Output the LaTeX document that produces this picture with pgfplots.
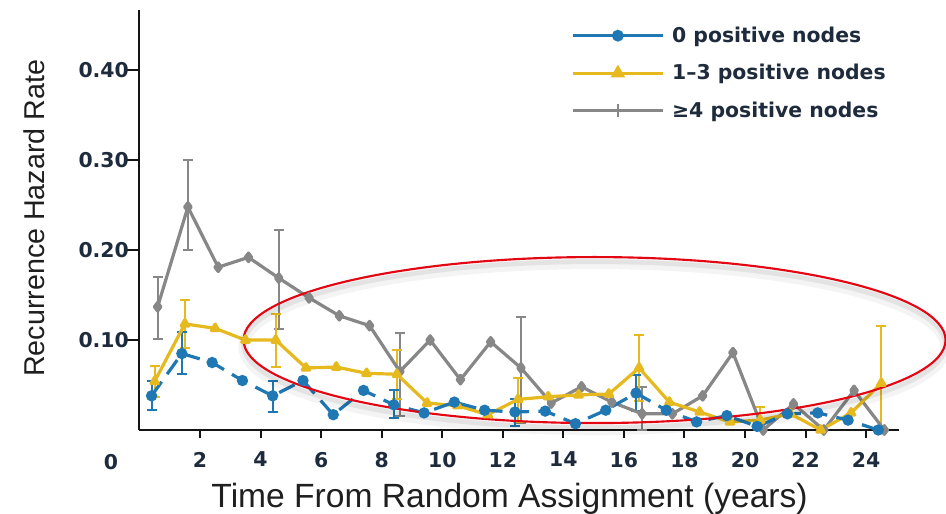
\documentclass[border=0pt]{standalone}
\usepackage{pgfplots}
\pgfplotsset{compat=1.18}
\usepackage{pgfplotstable}
\usepackage{fontspec}
\setmainfont{Liberation Sans}
\newfontfamily\tickfont{DejaVu Sans}

\definecolor{nodezero}{HTML}{1F77B4}
\definecolor{nodefew}{HTML}{E6B91E}
\definecolor{nodemany}{HTML}{878787}
\definecolor{labelink}{HTML}{1E2B3C}
\definecolor{hoop}{HTML}{E30613}

% Annual recurrence hazard by nodal status
\pgfplotstableread{
x    y
0.4  0.038
1.4  0.085
2.4  0.075
3.4  0.055
4.4  0.038
5.4  0.055
6.4  0.017
7.4  0.044
8.4  0.028
9.4  0.019
10.4 0.031
11.4 0.022
12.4 0.020
13.4 0.021
14.4 0.007
15.4 0.022
16.4 0.041
17.4 0.022
18.4 0.009
19.4 0.016
20.4 0.004
21.4 0.018
22.4 0.019
23.4 0.011
24.4 0.000
}\zeronodes

\pgfplotstableread{
x    y      ep     em
0.4  0.038  0.016  0.016
1.4  0.085  0.024  0.023
4.4  0.038  0.017  0.018
8.4  0.028  0.017  0.015
12.4 0.020  0.015  0.016
16.4 0.041  0.020  0.020
}\zeroerr

\pgfplotstableread{
x    y
0.5  0.054
1.5  0.118
2.5  0.113
3.5  0.100
4.5  0.100
5.5  0.069
6.5  0.070
7.5  0.063
8.5  0.062
9.5  0.030
10.5 0.027
11.5 0.017
12.5 0.034
13.5 0.037
14.5 0.039
15.5 0.040
16.5 0.069
17.5 0.031
18.5 0.020
19.5 0.009
20.5 0.011
21.5 0.018
22.5 0.000
23.5 0.019
24.5 0.052
}\fewnodes

\pgfplotstableread{
x    y      ep     em
0.5  0.054  0.017  0.017
1.5  0.118  0.027  0.027
4.5  0.100  0.029  0.030
8.5  0.062  0.027  0.027
12.5 0.034  0.024  0.025
16.5 0.069  0.037  0.037
20.5 0.011  0.015  0.011
24.5 0.052  0.064  0.052
}\fewerr

\pgfplotstableread{
x    y
0.6  0.137
1.6  0.248
2.6  0.181
3.6  0.192
4.6  0.169
5.6  0.147
6.6  0.127
7.6  0.116
8.6  0.065
9.6  0.100
10.6 0.056
11.6 0.098
12.6 0.069
13.6 0.030
14.6 0.048
15.6 0.031
16.6 0.018
17.6 0.018
18.6 0.038
19.6 0.086
20.6 0.000
21.6 0.029
22.6 0.000
23.6 0.044
24.6 0.000
}\manynodes

\pgfplotstableread{
x    y      ep     em
0.6  0.137  0.033  0.036
1.6  0.248  0.052  0.048
4.6  0.169  0.053  0.057
8.6  0.065  0.043  0.049
12.6 0.069  0.057  0.061
16.6 0.018  0.030  0.018
}\manyerr

\newcommand{\tickfontsize}{\tickfont\bfseries\fontsize{15.3}{18}\selectfont}

\begin{document}
\begin{tikzpicture}
\begin{axis}[
  name=ax,
  scale only axis,
  width=570pt, height=315pt,
  xmin=0, xmax=25.1, ymin=0, ymax=0.467,
  clip=false,
  axis lines*=left,
  axis line style={line width=1.5pt, color=black!92},
  tick align=outside,
  xtick={2,4,...,24},
  ytick={0.1,0.2,0.3,0.4},
  minor tick num=0,
  x tick style={line width=1.5pt, color=black!92, /pgfplots/major tick length=6pt},
  y tick style={line width=1.5pt, color=black!92, /pgfplots/major tick length=9.75pt},
  /pgf/number format/assume math mode=true,
  y tick label style={/pgf/number format/fixed, /pgf/number format/fixed zerofill, /pgf/number format/precision=2},
  tick label style={font=\tickfontsize, color=labelink},
  xticklabel style={anchor=north, inner sep=0pt, yshift=-12pt},
  yticklabel style={anchor=east, inner sep=0pt, xshift=-3.5pt},
  legend style={draw=none, fill=none, at={(0.563,0.973)}, anchor=north west,
    font=\tickfontsize, text=labelink, row sep=11pt,
    nodes={inner xsep=6pt}},
  legend cell align=left,
  legend image code/.code={%
    \draw[mark repeat=2, mark phase=2, #1]
      plot coordinates {(0pt,0pt) (33.5pt,0pt) (67pt,0pt)};},
]

% legend entries
\addlegendimage{nodezero, line width=2.4pt, mark=*, mark size=3.2pt, solid}
\addlegendentry{0 positive nodes}
\addlegendimage{nodefew, line width=2.4pt, mark=triangle*, mark size=4pt}
\addlegendentry{1–3 positive nodes}
\addlegendimage{nodemany, line width=2.4pt, mark=|, mark size=5pt, mark options={line width=1.3pt}}
\addlegendentry{≥4 positive nodes}

% error bars
\addplot[forget plot, draw=none, mark=none,
  error bars/.cd, y dir=both, y explicit,
  error bar style={draw=nodemany, line width=1.5pt, solid},
  error mark options={rotate=90, draw=nodemany, line width=1.5pt, mark size=3.8pt}]
  table[x=x, y=y, y error plus=ep, y error minus=em] {\manyerr};
\addplot[forget plot, draw=none, mark=none,
  error bars/.cd, y dir=both, y explicit,
  error bar style={draw=nodefew, line width=1.5pt, solid},
  error mark options={rotate=90, draw=nodefew, line width=1.5pt, mark size=3.8pt}]
  table[x=x, y=y, y error plus=ep, y error minus=em] {\fewerr};
\addplot[forget plot, draw=none, mark=none,
  error bars/.cd, y dir=both, y explicit,
  error bar style={draw=nodezero, line width=1.5pt, solid},
  error mark options={rotate=90, draw=nodezero, line width=1.5pt, mark size=3.8pt}]
  table[x=x, y=y, y error plus=ep, y error minus=em] {\zeroerr};

% series
\addplot[forget plot, nodemany, line width=2.4pt, line join=round,
  mark=diamond*, mark size=3.2pt, mark options={solid}]
  table[x=x, y=y] {\manynodes};
\addplot[forget plot, nodefew, line width=2.4pt, line join=round,
  mark=triangle*, mark size=3.2pt, mark options={solid}]
  table[x=x, y=y] {\fewnodes};
\addplot[forget plot, nodezero, line width=2.4pt, dash pattern=on 13pt off 7pt,
  mark=*, mark size=3pt, mark options={solid}]
  table[x=x, y=y] {\zeronodes};

% origin label
\node[font=\tickfontsize, color=labelink, anchor=north, inner sep=0pt]
  at ([yshift=-18pt]axis cs:-0.94,0) {0};

% axis titles
\node[font=\fontsize{25.2}{29}\selectfont, color=black!88, anchor=base]
  at ([yshift=-57.75pt]axis description cs:0.487,0) {Time From Random Assignment (years)};
\node[rotate=90, font=\fontsize{21.5}{25}\selectfont, color=black!88, anchor=base]
  at ([xshift=-70.9pt]axis description cs:0,0.504) {Recurrence Hazard Rate};

% highlighted late-recurrence region
\draw[black, opacity=0.045, line width=8pt]
  ([yshift=-5pt]axis cs:15.03,0.1) ellipse [x radius=263.25pt, y radius=62.25pt];
\draw[black, opacity=0.07, line width=3.5pt]
  ([yshift=-3.5pt]axis cs:15.03,0.1) ellipse [x radius=263.25pt, y radius=62.25pt];
\draw[hoop, line width=1.6pt]
  (axis cs:15.03,0.1) ellipse [x radius=263.25pt, y radius=62.25pt];
\end{axis}
\pgfresetboundingbox
\path[use as bounding box] ([shift={(-104.6pt,-63pt)}]ax.south west) rectangle ++(709.5pt,385.5pt);
\end{tikzpicture}
\end{document}
